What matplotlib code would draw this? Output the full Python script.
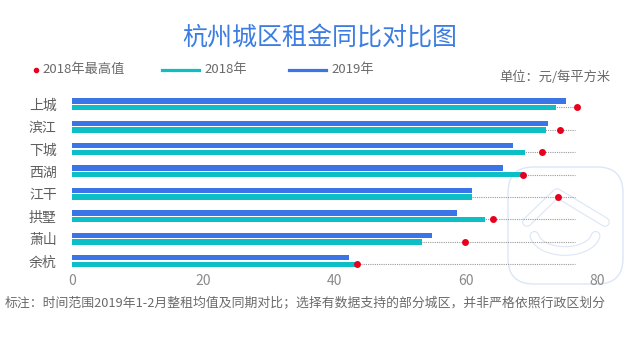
import numpy as np
import matplotlib
matplotlib.use("Agg")
import matplotlib.pyplot as plt
from matplotlib.patches import FancyBboxPatch
from matplotlib.lines import Line2D

plt.rcParams['font.family'] = ['Noto Sans CJK SC', 'DejaVu Sans']

# Data: average monthly rent (元/每平方米)
districts = ["上城", "滨江", "下城", "西湖", "江干", "拱墅", "萧山", "余杭"]
rent_2019 = [75.2, 72.5, 67.2, 65.7, 61.0, 58.7, 54.9, 42.2]
rent_2018 = [73.7, 72.2, 69.1, 68.7, 61.0, 63.0, 53.4, 43.1]
peak_2018 = [77.0, 74.4, 71.6, 68.7, 74.0, 64.2, 59.9, 43.4]
x_ticks = [0, 20, 40, 60, 80]

C2019 = "#3a74e6"
C2018 = "#0cbfc6"
CPEAK = "#e8001c"
GRAY = "#6a6a6a"

W, H = 641, 337
fig = plt.figure(figsize=(W / 100, H / 100), dpi=100)


def fx(px):
    return px / W


def fy(py):
    return 1 - py / H


# Faint logo mark in the lower right corner
wm = "#dbe6f8"
box = FancyBboxPatch((fx(508), fy(284)), fx(115), 117 / H,
                     boxstyle="round,pad=0,rounding_size=0.04",
                     transform=fig.transFigure, fill=False,
                     edgecolor=wm, linewidth=1.0, zorder=-5)
box.set_mutation_aspect(W / H)
fig.patches.append(box)

chev_x = [fx(527), fx(557), fx(605)]
chev_y = [fy(222), fy(193), fy(222)]
t = np.linspace(np.pi * 0.05, np.pi * 0.95, 40)
smile_x = [fx(565 + 31 * np.cos(a)) for a in t]
smile_y = [fy(233 + 18 * np.sin(a)) for a in t]
for xs, ys in [(chev_x, chev_y), (smile_x, smile_y)]:
    fig.add_artist(Line2D(xs, ys, transform=fig.transFigure, color=wm,
                          linewidth=7.0, solid_capstyle="round",
                          solid_joinstyle="round", zorder=-4))
    fig.add_artist(Line2D(xs, ys, transform=fig.transFigure, color="white",
                          linewidth=5.4, solid_capstyle="round",
                          solid_joinstyle="round", zorder=-3))

# Main axes
ax = fig.add_axes([fx(72), fy(272.2), fx(597) - fx(72), 179.2 / H])
ax.set_facecolor("none")
y = np.arange(len(districts))
off = 0.146
bh = 0.235

ax.hlines(y + off, 0, 76.7, colors="#9a9a9a", linestyles=(0, (1, 1)),
          linewidth=0.8, zorder=1)
ax.barh(y - off, rent_2019, height=bh, color=C2019, zorder=2)
ax.barh(y + off, rent_2018, height=bh, color=C2018, zorder=2)
ax.plot(peak_2018, y + off, "o", color=CPEAK, markersize=5, zorder=3,
        markeredgewidth=0)

ax.set_xlim(0, 80)
ax.set_ylim(len(districts) - 0.5, -0.5)
ax.set_xticks(x_ticks)
ax.set_xticklabels([str(v) for v in x_ticks])
ax.set_yticks(y)
ax.set_yticklabels(districts)
ax.tick_params(axis="x", length=0, pad=1, labelsize=10, labelcolor="#8a8a8a")
ax.tick_params(axis="y", length=0, pad=11, labelsize=10, labelcolor="#5e5e5e")
for s in ax.spines.values():
    s.set_visible(False)

# Title
fig.text(fx(320), fy(38), "杭州城区租金同比对比图", ha="center", va="center",
         fontsize=18, color="#3d7de2")

# Legend
fig.add_artist(Line2D([fx(36)], [fy(70)], transform=fig.transFigure,
                      marker="o", markersize=3, color=CPEAK, linestyle="none"))
fig.text(fx(42), fy(70), "2018年最高值", ha="left", va="center",
         fontsize=9.5, color=GRAY)
fig.add_artist(Line2D([fx(162), fx(199)], [fy(70), fy(70)],
                      transform=fig.transFigure, color=C2018, linewidth=2.3))
fig.text(fx(204), fy(70), "2018年", ha="left", va="center",
         fontsize=9.5, color=GRAY)
fig.add_artist(Line2D([fx(289), fx(326)], [fy(70), fy(70)],
                      transform=fig.transFigure, color=C2019, linewidth=2.3))
fig.text(fx(331), fy(70), "2019年", ha="left", va="center",
         fontsize=9.5, color=GRAY)

fig.text(fx(610), fy(77), "单位：元/每平方米", ha="right", va="center",
         fontsize=9.5, color=GRAY)

# Footnote
fig.text(fx(5), fy(303), "标注：时间范围2019年1-2月整租均值及同期对比；"
         "选择有数据支持的部分城区，并非严格依照行政区划分",
         ha="left", va="center", fontsize=9.25, color=GRAY)

fig.savefig("out.png", dpi=100, facecolor="white")
